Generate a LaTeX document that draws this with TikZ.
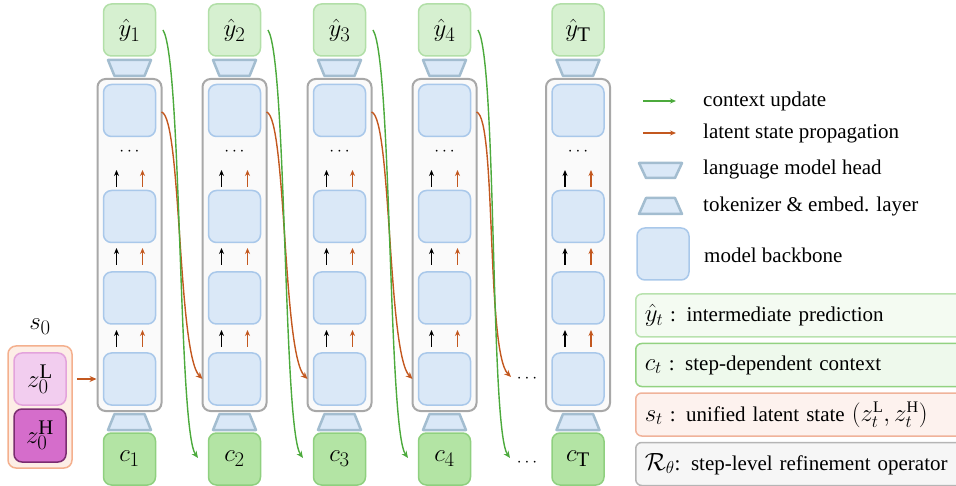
\documentclass[tikz,border=0pt]{standalone}
\usepackage{fontspec}
\setmainfont{Liberation Serif}
\usetikzlibrary{arrows.meta}
\definecolor{yhatfill}{HTML}{D6F0D0}
\definecolor{yhatdraw}{HTML}{B2DFA8}
\definecolor{cfill}{HTML}{B3E4A4}
\definecolor{cdraw}{HTML}{8FD07F}
\definecolor{blkfill}{HTML}{DAE8F7}
\definecolor{blkdraw}{HTML}{A9C8EA}
\definecolor{trapdraw}{HTML}{A3BDD0}
\definecolor{colfill}{HTML}{FAFAFA}
\definecolor{coldraw}{HTML}{A8A8A8}
\definecolor{arrgreen}{HTML}{4CAA3C}
\definecolor{arrorange}{HTML}{C3581F}
\definecolor{sfill}{HTML}{FDEEE6}
\definecolor{sdraw}{HTML}{F4B08E}
\definecolor{zLfill}{HTML}{F2CDEF}
\definecolor{zLdraw}{HTML}{E3A3DC}
\definecolor{zHfill}{HTML}{D56DCB}
\definecolor{zHdraw}{HTML}{7B2C70}
\definecolor{legAfill}{HTML}{F4FBF2}
\definecolor{legAdraw}{HTML}{B8E2AE}
\definecolor{legBfill}{HTML}{EEF9EC}
\definecolor{legBdraw}{HTML}{92D281}
\definecolor{legCfill}{HTML}{FDF2EE}
\definecolor{legCdraw}{HTML}{F0B39A}
\definecolor{legDfill}{HTML}{F6F6F6}
\definecolor{legDdraw}{HTML}{B5B5B5}
\newcommand{\mbig}[1]{{\fontsize{23}{28}\selectfont$#1$}}
\begin{document}
\begin{tikzpicture}[x=1pt,y=-1pt,
  every node/.style={font=\rmfamily\fontsize{21}{25}\selectfont},
  rbox/.style={rectangle,rounded corners=8pt,inner sep=0pt,line width=1.5pt},
  mathbig/.style={font=\fontsize{24.88}{30}\selectfont},
  yhatbox/.style={rbox,mathbig,fill=yhatfill,draw=yhatdraw,minimum width=52pt,minimum height=52pt},
  ctxbox/.style={rbox,mathbig,fill=cfill,draw=cdraw,minimum width=52pt,minimum height=52pt},
  blkbox/.style={rbox,fill=blkfill,draw=blkdraw,minimum width=52pt,minimum height=52pt},
  colbox/.style={rbox,fill=colfill,draw=coldraw,line width=2pt,minimum width=64pt,minimum height=332pt},
  trap/.style={fill=blkfill,draw=trapdraw,line width=2.5pt,line join=round},
  greenarr/.style={draw=arrgreen,line width=1.4pt,-{Stealth[length=7pt,width=6pt]}},
  orangearr/.style={draw=arrorange,line width=1.4pt,-{Stealth[length=7pt,width=6pt]}},
  smallblack/.style={draw=black,line width=1.3pt,-{Stealth[length=6pt,width=5pt]}},
  smallorange/.style={draw=arrorange,line width=1.3pt,-{Stealth[length=6pt,width=5pt]}},
  dotsnode/.style={inner sep=0pt,font=\fontsize{17.28}{18}\selectfont},
  legtext/.style={anchor=west,inner sep=0pt},
  legbox/.style={rectangle,rounded corners=6pt,line width=1.5pt,anchor=west,inner sep=0pt,minimum height=43pt,text width=340pt,align=left}
]
\useasboundingbox (0,0) rectangle (956,486);

% columns
\foreach \i/\X/\lab in {1/129.5/1,2/234.5/2,3/339.5/3,4/444.5/4,T/578/\mathrm{T}}{
  \node[colbox] (col\i) at (\X,245) {};
  \node[yhatbox] (yh\i) at (\X,30) {$\hat{y}_{\lab}$};
  \node[ctxbox] (c\i) at (\X,459) {$c_{\lab}$};
  \node[blkbox] (b\i a) at (\X,110.5) {};
  \node[blkbox] (b\i b) at (\X,216.5) {};
  \node[blkbox] (b\i c) at (\X,298) {};
  \node[blkbox] (b\i d) at (\X,379) {};
  \node[dotsnode] (d\i) at (\X,152) {$\cdots$};
  \draw[trap] ({\X-21.5},60) -- ({\X+21.5},60) -- ({\X+15},76) -- ({\X-15},76) -- cycle;
  \draw[trap] ({\X-15},414) -- ({\X+15},414) -- ({\X+21.5},430) -- ({\X-21.5},430) -- cycle;
  \foreach \ya/\yb in {187/170,265/248,347/330}{
    \draw[smallblack] ({\X-13},\ya) -- ({\X-13},\yb);
    \draw[smallorange] ({\X+13},\ya) -- ({\X+13},\yb);
  }
  \coordinate (gs\i) at ({\X+33.5},30);
  \coordinate (ge\i) at ({\X-36.5},458);
  \coordinate (os\i) at ({\X+32},112);
  \coordinate (oe\i) at ({\X-32},379);
}
% dots before last column
\node[dotsnode] (dA) at (527,379) {$\cdots$};
\node[dotsnode] (dB) at (527,463) {$\cdots$};
\coordinate (geT) at (510,458);
\coordinate (oeT) at (511,377);

% propagation curves
\foreach \a/\b in {1/2,2/3,3/4,4/T}{
  \draw[orangearr] (os\a) .. controls +(20,5) and +(-25,-25) .. (oe\b);
  \draw[greenarr] (gs\a) .. controls +(19,30) and +(-20,-28) .. (ge\b);
}

% s0 block
\node[font=\fontsize{24.88}{30}\selectfont] (s0lab) at (40,327) {$s_0$};
\node[rbox,fill=sfill,draw=sdraw,minimum width=64pt,minimum height=122pt] (s0box) at (40,407) {};
\node[rbox,mathbig,fill=zLfill,draw=zLdraw,minimum width=52pt,minimum height=52pt] (zL) at (40,379) {$z_0^{\mathrm{L}}$};
\node[rbox,mathbig,fill=zHfill,draw=zHdraw,minimum width=52pt,minimum height=53pt] (zH) at (40,435.5) {$z_0^{\mathrm{H}}$};
\coordinate (s0out) at (77,379);
\draw[orangearr] (s0out) -- (col1.west |- zL);

% legend
\coordinate (lgA1) at (643,101); \coordinate (lgA2) at (676,101);
\draw[greenarr,-{Stealth[length=6pt,width=5pt]}] (lgA1) -- (lgA2);
\node[legtext] (lt1) at (703,101) {context update};
\coordinate (lgB1) at (643,133); \coordinate (lgB2) at (676,133);
\draw[orangearr,-{Stealth[length=6pt,width=5pt]}] (lgB1) -- (lgB2);
\node[legtext] (lt2) at (703,133) {latent state propagation};
\draw[trap] (639,163) -- (682,163) -- (675,178) -- (646,178) -- cycle;
\node[legtext] (lt3) at (703,169) {language model head};
\draw[trap] (646,198) -- (675,198) -- (682,214) -- (639,214) -- cycle;
\node[legtext] (lt4) at (703,206) {tokenizer \& embed. layer};
\node[blkbox] (lgbb) at (663,254) {};
\node[legtext] (lt5) at (704,255) {model backbone};

\node[legbox,fill=legAfill,draw=legAdraw] (L1) at (635,315.5) {\hspace*{9pt}\mbig{\hat{y}_t} : intermediate prediction};
\node[legbox,fill=legBfill,draw=legBdraw] (L2) at (635,365) {\hspace*{9pt}\mbig{c_t} : step-dependent context};
\node[legbox,fill=legCfill,draw=legCdraw] (L3) at (635,414.5) {\hspace*{9pt}\mbig{s_t} : unified latent state \mbig{\left(z_t^{\mathrm{L}}, z_t^{\mathrm{H}}\right)}};
\node[legbox,fill=legDfill,draw=legDdraw] (L4) at (635,464) {\hspace*{9pt}\mbig{\mathcal{R}_\theta}{:} step-level refinement operator};
\end{tikzpicture}
\end{document}
